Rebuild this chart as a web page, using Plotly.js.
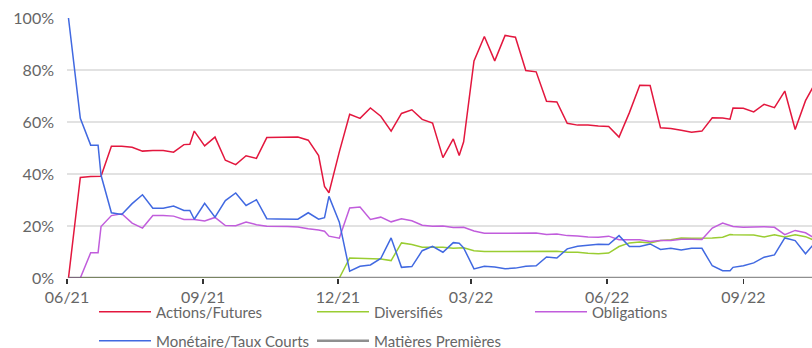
<!DOCTYPE html>
<html>
<head>
<meta charset="utf-8">
<script src="https://cdn.plot.ly/plotly-3.0.1.min.js"></script>
<style>
html,body{margin:0;padding:0;background:#fff;}
#chart{width:812px;height:348px;}
</style>
</head>
<body>
<div id="chart"></div>
<script>
const dates = [
 '2021-06-02','2021-06-10','2021-06-17','2021-06-22','2021-06-24','2021-07-01','2021-07-08','2021-07-15','2021-07-22','2021-07-29',
 '2021-08-05','2021-08-12','2021-08-19','2021-08-23','2021-08-26','2021-09-02','2021-09-09','2021-09-16','2021-09-23','2021-09-30',
 '2021-10-07','2021-10-14','2021-10-21','2021-10-28','2021-11-04','2021-11-11','2021-11-18','2021-11-22','2021-11-25','2021-12-02',
 '2021-12-09','2021-12-16','2021-12-23','2021-12-30','2022-01-06','2022-01-13','2022-01-20','2022-01-27','2022-02-03','2022-02-10',
 '2022-02-17','2022-02-21','2022-02-24','2022-03-03','2022-03-10','2022-03-17','2022-03-24','2022-03-31','2022-04-07','2022-04-14',
 '2022-04-21','2022-04-28','2022-05-05','2022-05-12','2022-05-19','2022-05-26','2022-06-02','2022-06-09','2022-06-16','2022-06-23',
 '2022-06-30','2022-07-07','2022-07-14','2022-07-21','2022-07-28','2022-08-04','2022-08-11','2022-08-18','2022-08-23','2022-08-25',
 '2022-09-01','2022-09-08','2022-09-15','2022-09-22','2022-09-29','2022-10-06','2022-10-13','2022-10-20'
];

const actions = [
 0,38.7,39,39,39.1,50.7,50.7,50.3,48.8,49,
 49,48.4,51.3,51.4,56.5,50.8,54.2,45.3,43.6,47,
 46,54,54,54.1,54.2,53,47.1,35.2,32.8,48.5,
 63,61.4,65.4,62.2,56.5,63.3,64.7,61,59.6,46.3,
 53.5,47.1,52.4,83.5,92.9,83.5,93.3,92.6,79.8,79.3,
 68,67.7,59.5,58.8,58.8,58.5,58.3,54.2,63.6,74.1,
 74,57.8,57.5,56.8,56.1,56.5,61.6,61.5,61.1,65.4,
 65.3,63.9,66.8,65.5,71.9,57.1,68.2,75.5
];

const diversifies = [
 0,0,0,0,0,0,0,0,0,0,
 0,0,0,0,0,0,0,0,0,0,
 0,0,0,0,0,0,0,0,0,0,
 7.7,7.5,7.4,7.3,6.7,13.5,12.9,11.8,11.8,11.8,
 11.4,11.5,11.6,10.5,10.2,10.2,10.2,10.3,10.3,10.3,
 10.1,10.3,9.9,9.9,9.5,9.3,9.6,12.1,13.5,13.8,
 13.5,14.4,14.7,15.4,15.3,15.3,15.4,15.7,16.7,16.6,
 16.5,16.5,15.8,16.6,15.8,16.6,15.9,14.2
];

const obligations = [
 0,0,9.7,9.7,19.8,24,24.7,21.1,19.2,24,
 24,23.8,22.5,22.5,22.5,21.9,23.3,20.2,20.1,21.5,
 20.5,19.9,19.9,19.8,19.6,18.9,18.5,18,16.1,15.3,
 26.9,27.3,22.5,23.4,21.6,22.8,22,20.3,19.9,20,
 19.4,19.5,19.5,18.1,17.2,17.2,17.2,17.3,17.3,17.3,
 16.7,16.9,16.3,16.2,15.8,15.7,16.1,14.7,14.7,14.7,
 14,14.4,14.4,14.9,14.9,14.8,19.2,21.1,20.2,19.8,
 19.5,19.6,19.7,19.5,16.7,18.3,17.4,15
];

const monetaire = [
 100,61.4,51.1,51.1,39.5,25.1,24.4,28.6,32,26.8,
 26.8,27.7,26,26,22.6,28.7,23.4,29.8,32.7,27.9,
 30.1,22.8,22.7,22.6,22.6,25.1,22.6,23.2,31.4,21.5,
 2.6,4.5,5,7.5,15.4,4.1,4.4,10.5,12.2,9.9,
 13.6,13.4,11.6,3.5,4.5,4.2,3.6,3.8,4.5,4.7,
 8.1,7.7,11.2,12.2,12.6,13,12.9,16.3,12.1,12.1,
 13.1,11,11.4,10.8,11.4,11.4,4.7,2.8,2.8,4.1,
 4.7,5.8,8,8.9,15.4,14.4,9.3,14
];

const matieres = dates.map(() => 0);

const seriesNames = ['Actions/Futures','Diversifiés','Obligations','Monétaire/Taux Courts','Matières Premières'];
const seriesColors = ['#e3173e','#9acd32','#c15ddc','#4169e1','rgba(95,95,95,0.7)'];
const seriesValues = [actions, diversifies, obligations, monetaire, matieres];
const seriesLegend = ['legend','legend','legend','legend2','legend2'];
const seriesWidth = [1.5,1.5,1.5,1.5,2.5];

const yTicks = [0,20,40,60,80,100];
const yTickText = ['0%','20%','40%','60%','80%','100%'];

const traces = seriesNames.map((n,i) => ({
  type:'scatter', mode:'lines', name:n, x:dates, y:seriesValues[i],
  line:{color:seriesColors[i], width:seriesWidth[i]},
  legend:seriesLegend[i], hoverinfo:'skip'
}));

const font = {family:'Lato, "Open Sans", sans-serif', size:15, color:'#666'};
const legendCommon = {
  orientation:'h', xref:'container', yref:'container', xanchor:'left', yanchor:'middle',
  itemwidth:52, entrywidth:151, entrywidthmode:'pixels',
  font:{family:font.family, size:15, color:'#666'}, bgcolor:'rgba(0,0,0,0)', borderwidth:0,
  itemclick:false, itemdoubleclick:false
};

const layout = {
  width:812, height:348,
  margin:{l:67, r:0, t:18, b:70},
  paper_bgcolor:'#fff', plot_bgcolor:'#fff',
  font:font,
  showlegend:true,
  legend:Object.assign({}, legendCommon, {x:94/812, y:36/348}),
  legend2:Object.assign({}, legendCommon, {x:94/812, y:7/348}),
  xaxis:{
    type:'date', range:['2021-06-01','2022-10-17 09:00'],
    tick0:'2021-06-01', dtick:'M3', tickformat:'%m/%y',
    ticks:'outside', ticklen:5, tickwidth:1.5, tickcolor:'#333',
    showgrid:false, zeroline:false, showline:false,
    tickfont:{family:font.family, size:16, color:'#666'}, fixedrange:true
  },
  yaxis:{
    range:[0,100], tickvals:yTicks, ticktext:yTickText,
    showgrid:true, gridcolor:'#e2e2e2', gridwidth:1.5, zeroline:false, showline:false,
    ticks:'', ticklabelstandoff:12,
    tickfont:{family:font.family, size:16, color:'#666'}, fixedrange:true
  }
};

Plotly.newPlot('chart', traces, layout, {displayModeBar:false, staticPlot:true});
</script>
</body>
</html>
